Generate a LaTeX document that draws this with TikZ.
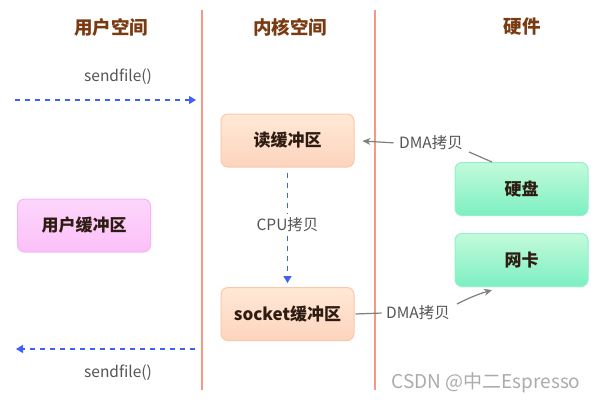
\documentclass[tikz,border=0pt]{standalone}
\usepackage{fontspec}
\setmainfont{Noto Sans CJK SC}
\usetikzlibrary{arrows.meta}
\definecolor{hdr}{HTML}{7A3B12}
\definecolor{sep}{HTML}{F29A82}
\definecolor{blu}{HTML}{4060F5}
\definecolor{gry}{HTML}{7F7F7F}
\definecolor{txt}{HTML}{555555}
\definecolor{boxtxt}{HTML}{2E1C12}
\definecolor{kTop}{HTML}{FFE9D6}
\definecolor{kBot}{HTML}{FDD4BE}
\definecolor{kBrd}{HTML}{FCC7A8}
\definecolor{gTop}{HTML}{C3FBDB}
\definecolor{gBot}{HTML}{7DEFC2}
\definecolor{gBrd}{HTML}{8FF2C8}
\definecolor{pTop}{HTML}{FDD6FC}
\definecolor{pBot}{HTML}{FBC0F7}
\definecolor{pBrd}{HTML}{F8B4F4}
\tikzset{
  header/.style={text=hdr,font=\fontsize{18.5}{20}\selectfont\bfseries},
  lbl/.style={text=txt,font=\fontsize{15.5}{17}\selectfont},
  buf/.style={rounded corners=7pt,minimum width=133pt,minimum height=53pt,line width=1pt,
    text=boxtxt,font=\fontsize{17}{19}\selectfont\bfseries},
  kern/.style={buf,draw=kBrd,top color=kTop,bottom color=kBot},
  hw/.style={buf,draw=gBrd,top color=gTop,bottom color=gBot},
  usr/.style={buf,draw=pBrd,top color=pTop,bottom color=pBot},
  sepline/.style={draw=sep,line width=1.5pt},
  call/.style={draw=blu,line width=1.2pt,dash pattern=on 5pt off 5pt,-{Triangle[length=7pt,width=8pt]}},
  dma/.style={draw=gry,line width=1.2pt},
}
\begin{document}
\begin{tikzpicture}[x=1pt,y=-1pt]
\useasboundingbox[fill=white] (0,0) rectangle (596,402);
% separators
\coordinate (s1t) at (202,10); \coordinate (s1b) at (202,390);
\coordinate (s2t) at (375,10); \coordinate (s2b) at (375,390);
\draw[sepline] (s1t) -- (s1b);
\draw[sepline] (s2t) -- (s2b);
% headers
\node[header] (h1) at (111,27) {用户空间};
\node[header] (h2) at (290,27) {内核空间};
\node[header] (h3) at (522,27) {硬件};
% boxes
\node[kern] (read) at (287.5,140.5) {读缓冲区};
\node[kern] (sock) at (287.5,314) {socket缓冲区};
\node[hw] (disk) at (521.5,189) {硬盘};
\node[hw] (nic) at (521.5,260) {网卡};
\node[usr] (ubuf) at (84,225.5) {用户缓冲区};
% sendfile calls
\node[lbl] (sf1) at (118,77) {sendfile()};
\node[lbl] (sf2) at (118,373) {sendfile()};
\coordinate (a1s) at (15,100); \coordinate (a1e) at (196,100);
\draw[call] (a1s) -- (a1e);
\coordinate (a2s) at (195,349); \coordinate (a2e) at (16,349);
\draw[call] (a2s) -- (a2e);
% CPU copy
\node[lbl] (cpu) at (287.5,225) {CPU拷贝};
\draw[draw=blu,line width=1.2pt,dash pattern=on 5pt off 5pt,shorten <=5pt] (read.south) -- (cpu.north);
\draw[call,shorten >=4pt] (cpu.south) -- (sock.north);
% DMA copies
\node[lbl] (dma1) at (431,143) {DMA拷贝};
\coordinate (d1a) at (492,162);
\coordinate (d1b) at (469,152);
\draw[dma] (d1a) -- (d1b);
\draw[dma,-{Stealth[length=8pt,width=7pt]},shorten <=2pt,shorten >=8pt] (dma1.west) -- (read.east);
\node[lbl] (dma2) at (418,313) {DMA拷贝};
\draw[dma,shorten <=1pt,shorten >=1pt] (sock.east) -- (dma2.west);
\coordinate (d2a) at (457,304);
\coordinate (d2b) at (492,290);
\draw[dma,-{Stealth[length=8pt,width=7pt]}] (d2a) to[bend left=5] (d2b);
% watermark
\node[text=gray!65,font=\fontsize{19}{21}\selectfont] (wm) at (486,383) {CSDN @中二Espresso};
\end{tikzpicture}
\end{document}
